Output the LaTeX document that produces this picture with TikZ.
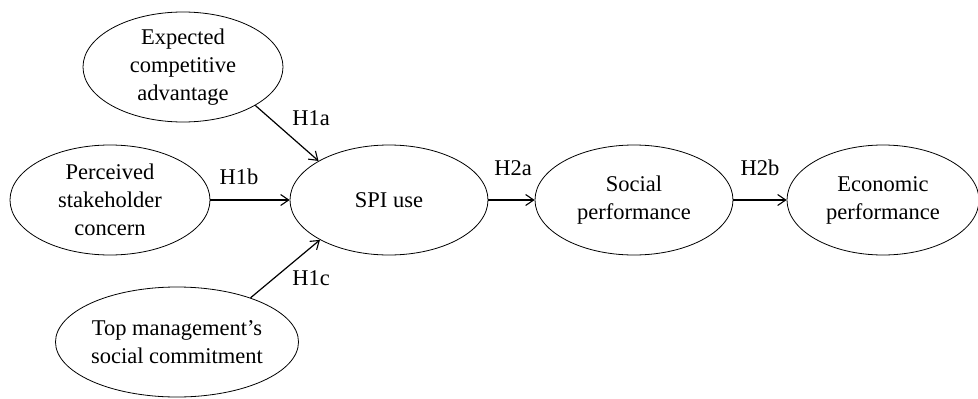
\documentclass[tikz,border=0pt]{standalone}
\usepackage{fontspec}
\setmainfont{Liberation Serif}
\usetikzlibrary{shapes.geometric,arrows.meta}
\begin{document}
\begin{tikzpicture}[x=1pt,y=-1pt,
  construct/.style={draw,ellipse,line width=0.8pt,inner sep=0pt,
    minimum width=200pt,minimum height=110pt,align=center,
    font=\fontsize{22.5}{28}\selectfont},
  path/.style={line width=1.2pt,-{Straight Barb[length=8pt,width=11pt,line width=1.1pt]}},
  hyp/.style={font=\fontsize{22.5}{28}\selectfont,inner sep=0pt}]
\useasboundingbox (0,0) rectangle (978,399);

% constructs
\node[construct] (eca) at (183,67) {Expected\\competitive\\advantage};
\node[construct] (psc) at (110,200) {Perceived\\stakeholder\\concern};
\node[construct,minimum width=204pt] (tms) at (177,342) {Top management's\\social commitment};
\node[construct,minimum width=198pt] (spi) at (389,200) {SPI use};
\node[construct,minimum width=198pt] (sp) at (634,200) {Social\\performance};
\node[construct,minimum width=192pt] (ep) at (883,200) {Economic\\performance};

% hypothesised paths
\draw[path] (eca.-28.5) -- (spi.151);
\draw[path] (psc.east) -- (spi.west);
\draw[path] (tms.31) -- (spi.210.6);
\draw[path] (spi.east) -- (sp.west);
\draw[path] (sp.east) -- (ep.west);

% path labels
\node[hyp] (h1a) at (311,118) {H1a};
\node[hyp] (h1b) at (239,177) {H1b};
\node[hyp] (h1c) at (311,278) {H1c};
\node[hyp] (h2a) at (513,168) {H2a};
\node[hyp] (h2b) at (760,168) {H2b};
\end{tikzpicture}
\end{document}
